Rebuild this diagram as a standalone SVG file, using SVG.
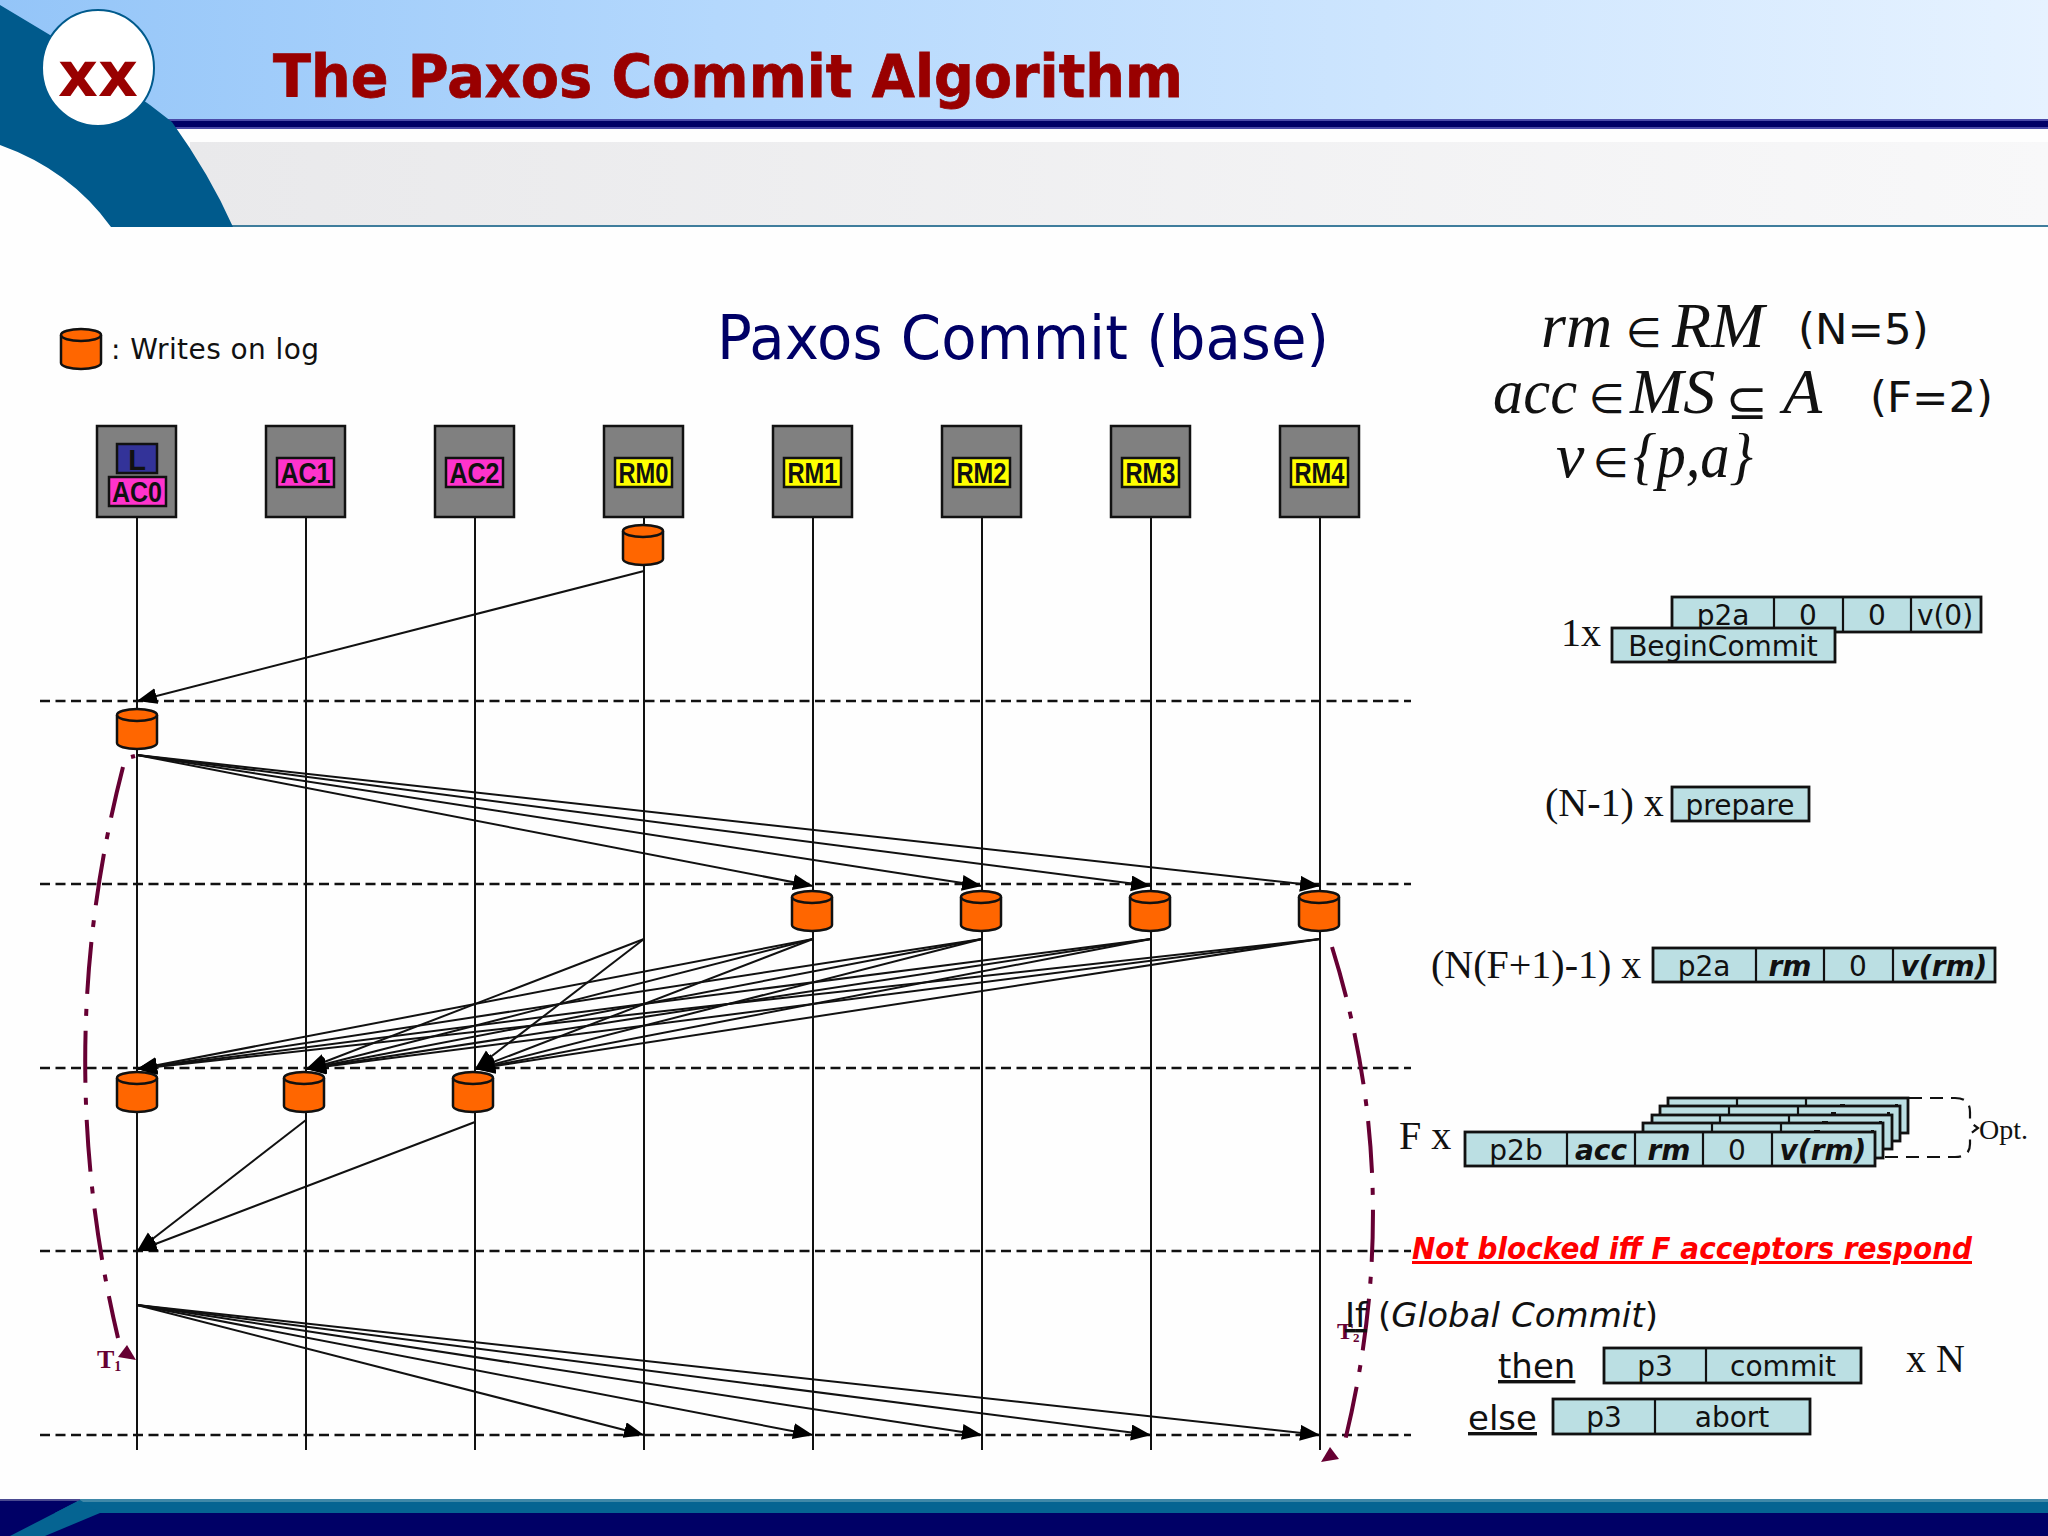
<svg xmlns="http://www.w3.org/2000/svg" width="2048" height="1536" viewBox="0 0 2048 1536">
<style>
.sans{font-family:"DejaVu Sans",sans-serif}
.serif{font-family:"Liberation Serif",serif;fill:#111}
.math{font-family:"Liberation Serif",serif;font-style:italic;font-size:64px;fill:#111}
.sym{font-family:"DejaVu Sans",sans-serif;font-size:41px;fill:#111}
.par{font-family:"DejaVu Sans",sans-serif;font-size:43.500px;fill:#111}
.mul{font-family:"Liberation Serif",serif;font-size:40px;fill:#111}
.life{stroke:#111;stroke-width:2;fill:none}
.dash{stroke:#111;stroke-width:2.500;stroke-dasharray:10 5.500;fill:none}
.msg{stroke:#111;stroke-width:2;fill:none;marker-end:url(#arr)}
.trace{stroke:#660033;stroke-width:4;stroke-dasharray:52 15 7 15;fill:none}
.tri{fill:#660033}
.tl{font-family:"Liberation Serif",serif;font-weight:bold;fill:#660033}
.proc{fill:#808080;stroke:#111;stroke-width:2.500}
.ac{fill:#ff33cc;stroke:#111;stroke-width:2.500}
.rm{fill:#ffff00;stroke:#111;stroke-width:2.500}
.lbl{font-family:"Liberation Sans",sans-serif;font-weight:bold;font-size:29px;text-anchor:middle;fill:#111}
.cell{fill:#bbdfe3;stroke:#111;stroke-width:2.800}
.div{stroke:#111;stroke-width:2.200;fill:none}
.t{font-family:"DejaVu Sans",sans-serif;font-size:28px;text-anchor:middle;fill:#111}
.b{font-weight:bold;font-style:italic}
.cyl{fill:#ff6600;stroke:#111;stroke-width:2.500}
</style>
<defs>
<linearGradient id="hdr" x1="0" x2="1" y1="0" y2="0"><stop offset="0" stop-color="#94c5f8"/><stop offset="0.35" stop-color="#b4d8fd"/><stop offset="1" stop-color="#e6f2ff"/></linearGradient>
<linearGradient id="band" x1="0" x2="1" y1="0" y2="0"><stop offset="0" stop-color="#e9e9eb"/><stop offset="1" stop-color="#f8f8f9"/></linearGradient>
<marker id="arr" markerUnits="userSpaceOnUse" markerWidth="22" markerHeight="18" refX="20" refY="8" orient="auto"><path d="M0 0L20 8L0 16z" fill="#000"/></marker>
<g id="cylinder"><path class="cyl" d="M-20 6A20 6 0 0 1 20 6V34A20 6 0 0 1 -20 34Z"/><path class="cyl" d="M-20 6A20 6 0 0 0 20 6" style="fill:none"/></g>
</defs>
<rect width="2048" height="1536" fill="#fefefe"/>
<g id="header">
<rect width="2048" height="120" fill="url(#hdr)"/>
<rect x="160" y="119" width="1888" height="10" fill="#4a4aa8"/>
<rect x="160" y="121" width="1888" height="6" fill="#000066"/>
<rect x="190" y="142" width="1858" height="83" fill="url(#band)"/>
<rect x="170" y="225" width="1878" height="2" fill="#3f7d9c"/>
<path d="M0 5L55 38L150 105L172 122Q210 175 233 227H111Q70 170 0 145Z" fill="#005a8c"/>
<ellipse cx="98" cy="68" rx="56" ry="58" fill="#fff" stroke="#005a8c" stroke-width="2"/>
<text x="98" y="96" class="sans" font-size="62" font-weight="bold" fill="#990000" text-anchor="middle">xx</text>
<text x="273" y="97" class="sans" font-size="58" font-weight="bold" fill="#990000" stroke="#990000" stroke-width="0.800" textLength="910" lengthAdjust="spacingAndGlyphs">The Paxos Commit Algorithm</text>
</g>
<g id="footer">
<rect y="1499" width="2048" height="3" fill="#3f88a8"/>
<rect y="1502" width="2048" height="12" fill="#056492"/>
<rect y="1513" width="2048" height="23" fill="#000066"/>
<path d="M0 1500H80L10 1536H0Z" fill="#000066"/>
<rect y="1499" width="80" height="2" fill="#4a4a90"/>
<path d="M80 1500L100 1513L45 1536H10Z" fill="#056492"/>
</g>
<g id="legend">
<use href="#cylinder" x="81" y="329"/>
<text x="111" y="359" class="sans" font-size="28" fill="#111" textLength="208">: Writes on log</text>
</g>
<text id="subtitle" x="717" y="359" class="sans" font-size="60" fill="#000066" textLength="612" lengthAdjust="spacingAndGlyphs">Paxos Commit (base)</text>
<g id="phase-lines">
<path class="dash" d="M40 701H1411M40 884H1411M40 1068H1411M40 1251H1411M40 1435H1411"/>
</g>
<g id="lifelines">
<path class="life" d="M137 517V1450M306 517V1450M475 517V1450M644 517V1450M813 517V1450M982 517V1450M1151 517V1450M1320 517V1450"/>
</g>
<g id="node-AC0"><rect class="proc" x="97" y="426" width="79" height="91"/><rect x="117" y="444" width="40" height="29" fill="#333399" stroke="#111" stroke-width="2.500"/><text x="137" y="470" class="lbl">L</text><rect class="ac" x="109" y="477" width="57" height="29"/><text x="137" y="502" class="lbl" textLength="50" lengthAdjust="spacingAndGlyphs">AC0</text></g>
<g id="node-AC1"><rect class="proc" x="266" y="426" width="79" height="91"/><rect class="ac" x="277" y="458" width="57" height="29"/><text x="305.500" y="483" class="lbl" textLength="50" lengthAdjust="spacingAndGlyphs">AC1</text></g>
<g id="node-AC2"><rect class="proc" x="435" y="426" width="79" height="91"/><rect class="ac" x="446" y="458" width="57" height="29"/><text x="474.500" y="483" class="lbl" textLength="50" lengthAdjust="spacingAndGlyphs">AC2</text></g>
<g id="node-RM0"><rect class="proc" x="604" y="426" width="79" height="91"/><rect class="rm" x="615" y="458" width="57" height="29"/><text x="643.500" y="483" class="lbl" textLength="50" lengthAdjust="spacingAndGlyphs">RM0</text></g>
<g id="node-RM1"><rect class="proc" x="773" y="426" width="79" height="91"/><rect class="rm" x="784" y="458" width="57" height="29"/><text x="812.500" y="483" class="lbl" textLength="50" lengthAdjust="spacingAndGlyphs">RM1</text></g>
<g id="node-RM2"><rect class="proc" x="942" y="426" width="79" height="91"/><rect class="rm" x="953" y="458" width="57" height="29"/><text x="981.500" y="483" class="lbl" textLength="50" lengthAdjust="spacingAndGlyphs">RM2</text></g>
<g id="node-RM3"><rect class="proc" x="1111" y="426" width="79" height="91"/><rect class="rm" x="1122" y="458" width="57" height="29"/><text x="1150.500" y="483" class="lbl" textLength="50" lengthAdjust="spacingAndGlyphs">RM3</text></g>
<g id="node-RM4"><rect class="proc" x="1280" y="426" width="79" height="91"/><rect class="rm" x="1291" y="458" width="57" height="29"/><text x="1319.500" y="483" class="lbl" textLength="50" lengthAdjust="spacingAndGlyphs">RM4</text></g>
<g id="log-writes">
<use href="#cylinder" x="643" y="525"/>
<use href="#cylinder" x="137" y="709"/>
<use href="#cylinder" x="812" y="891"/>
<use href="#cylinder" x="981" y="891"/>
<use href="#cylinder" x="1150" y="891"/>
<use href="#cylinder" x="1319" y="891"/>
<use href="#cylinder" x="137" y="1072"/>
<use href="#cylinder" x="304" y="1072"/>
<use href="#cylinder" x="473" y="1072"/>
</g>
<g id="connectors">
<line class="msg" x1="644" y1="571" x2="137" y2="701"/>
<line class="msg" x1="137" y1="755" x2="813" y2="886"/>
<line class="msg" x1="137" y1="755" x2="982" y2="886"/>
<line class="msg" x1="137" y1="755" x2="1151" y2="886"/>
<line class="msg" x1="137" y1="755" x2="1320" y2="886"/>
<line class="msg" x1="644" y1="939" x2="306" y2="1069"/>
<line class="msg" x1="644" y1="939" x2="475" y2="1069"/>
<line class="msg" x1="813" y1="939" x2="137" y2="1069"/>
<line class="msg" x1="813" y1="939" x2="306" y2="1069"/>
<line class="msg" x1="813" y1="939" x2="475" y2="1069"/>
<line class="msg" x1="982" y1="939" x2="137" y2="1069"/>
<line class="msg" x1="982" y1="939" x2="306" y2="1069"/>
<line class="msg" x1="982" y1="939" x2="475" y2="1069"/>
<line class="msg" x1="1151" y1="939" x2="137" y2="1069"/>
<line class="msg" x1="1151" y1="939" x2="306" y2="1069"/>
<line class="msg" x1="1151" y1="939" x2="475" y2="1069"/>
<line class="msg" x1="1320" y1="939" x2="137" y2="1069"/>
<line class="msg" x1="1320" y1="939" x2="306" y2="1069"/>
<line class="msg" x1="1320" y1="939" x2="475" y2="1069"/>
<line class="msg" x1="306" y1="1120" x2="137" y2="1251"/>
<line class="msg" x1="475" y1="1122" x2="137" y2="1251"/>
<line class="msg" x1="137" y1="1305" x2="644" y2="1435"/>
<line class="msg" x1="137" y1="1305" x2="813" y2="1435"/>
<line class="msg" x1="137" y1="1305" x2="982" y2="1435"/>
<line class="msg" x1="137" y1="1305" x2="1151" y2="1435"/>
<line class="msg" x1="137" y1="1305" x2="1320" y2="1435"/>
<path d="M131 757L135 756" stroke="#660033" stroke-width="4" fill="none"/>
<path class="trace" d="M123 767Q50 1050 118 1338"/>
<path class="tri" d="M127 1345L118 1357L136 1360Z"/>
<path class="trace" d="M1332 947Q1408 1190 1343 1449"/>
<path class="tri" d="M1330 1447L1321 1462L1339 1459Z"/>
</g>
<text x="97" y="1368" class="tl" font-size="26">T<tspan font-size="14" dy="3">1</tspan></text>
<text x="1337" y="1339" class="tl" font-size="24">T<tspan font-size="13" dy="3">2</tspan></text>
<g id="formulas">
<text x="1541" y="347" class="math">rm</text><text x="1626" y="347" class="sym">∈</text><text x="1672" y="347" class="math">RM</text>
<text x="1798" y="344" class="par">(N=5)</text>
<text x="1493" y="413" class="math" textLength="84" lengthAdjust="spacingAndGlyphs">acc</text><text x="1589" y="413" class="sym">∈</text><text x="1630" y="413" class="math">MS</text><text x="1726" y="419" class="sym" style="font-size:50px">⊆</text><text x="1783" y="413" class="math">A</text>
<text x="1870" y="412" class="par">(F=2)</text>
<text x="1556" y="477" class="math">v</text><text x="1593" y="477" class="sym">∈</text><text x="1633" y="477" class="math" textLength="120" lengthAdjust="spacingAndGlyphs">{p,a}</text>
</g>
<g id="msg-begin">
<text x="1561" y="646" class="mul">1x</text>
<rect class="cell" x="1672" y="597" width="309" height="35"/><path class="div" d="M1774 597V632M1843 597V632M1911 597V632"/>
<text x="1723" y="625" class="t">p2a</text><text x="1808" y="625" class="t">0</text><text x="1877" y="625" class="t">0</text><text x="1945" y="625" class="t">v(0)</text>
<rect class="cell" x="1612" y="628" width="223" height="34"/><text x="1723" y="656" class="t">BeginCommit</text>
</g>
<g id="msg-prepare">
<text x="1545" y="816" class="mul">(N-1) x</text>
<rect class="cell" x="1672" y="787" width="137" height="34"/><text x="1740" y="815" class="t">prepare</text>
</g>
<g id="msg-p2a">
<text x="1431" y="978" class="mul">(N(F+1)-1) x</text>
<rect class="cell" x="1653" y="948" width="342" height="34"/><path class="div" d="M1756 948V982M1824 948V982M1893 948V982"/>
<text x="1704" y="976" class="t">p2a</text><text x="1790" y="976" class="t b">rm</text><text x="1858" y="976" class="t">0</text><text x="1944" y="976" class="t b">v(rm)</text>
</g>
<g id="msg-p2b">
<text x="1399" y="1149" class="mul">F x</text>
<path d="M1909 1098H1955Q1970 1098 1970 1112V1122L1978 1128L1970 1134V1144Q1970 1157 1955 1157H1880" fill="none" stroke="#111" stroke-width="2.200" stroke-dasharray="13 8"/>
<rect class="cell" x="1668" y="1098" width="240" height="35"/><path class="div" d="M1737 1098V1133M1806 1098V1133"/><path class="div" d="M1840 1105H1845M1895 1105H1898"/>
<rect class="cell" x="1660" y="1106" width="240" height="35"/><path class="div" d="M1729 1106V1141M1798 1106V1141"/><path class="div" d="M1831 1113H1836M1887 1113H1890"/>
<rect class="cell" x="1652" y="1115" width="240" height="34"/><path class="div" d="M1720 1115V1149M1789 1115V1149"/><path class="div" d="M1822 1122H1828M1879 1122H1882"/>
<rect class="cell" x="1643" y="1123" width="240" height="35"/><path class="div" d="M1712 1123V1158M1781 1123V1158"/><path class="div" d="M1814 1131H1820M1871 1131H1874"/>
<rect class="cell" x="1465" y="1132" width="410" height="34"/><path class="div" d="M1567 1132V1166M1635 1132V1166M1703 1132V1166M1772 1132V1166"/>
<text x="1516" y="1160" class="t">p2b</text><text x="1601" y="1160" class="t b">acc</text><text x="1669" y="1160" class="t b">rm</text><text x="1737" y="1160" class="t">0</text><text x="1823" y="1160" class="t b">v(rm)</text>
<text x="1979" y="1139" class="serif" font-size="28">Opt.</text>
</g>
<text id="note" x="1412" y="1259" class="sans" font-size="30" font-weight="bold" font-style="italic" fill="#ff0000" text-decoration="underline" textLength="560" lengthAdjust="spacingAndGlyphs">Not blocked iff F acceptors respond</text>
<g id="msg-p3">
<text x="1345" y="1327" class="sans" font-size="34" fill="#111" textLength="313"><tspan text-decoration="underline">If</tspan> (<tspan font-style="italic">Global Commit</tspan>)</text>
<text x="1498" y="1378" class="sans" font-size="34" fill="#111" text-decoration="underline">then</text>
<rect class="cell" x="1604" y="1348" width="257" height="35"/><path class="div" d="M1706 1348V1383"/>
<text x="1655" y="1376" class="t">p3</text><text x="1783" y="1376" class="t">commit</text>
<text x="1906" y="1372" class="mul">x N</text>
<text x="1468" y="1430" class="sans" font-size="34" fill="#111" text-decoration="underline">else</text>
<rect class="cell" x="1553" y="1399" width="257" height="35"/><path class="div" d="M1655 1399V1434"/>
<text x="1604" y="1427" class="t">p3</text><text x="1732" y="1427" class="t">abort</text>
</g>
</svg>
